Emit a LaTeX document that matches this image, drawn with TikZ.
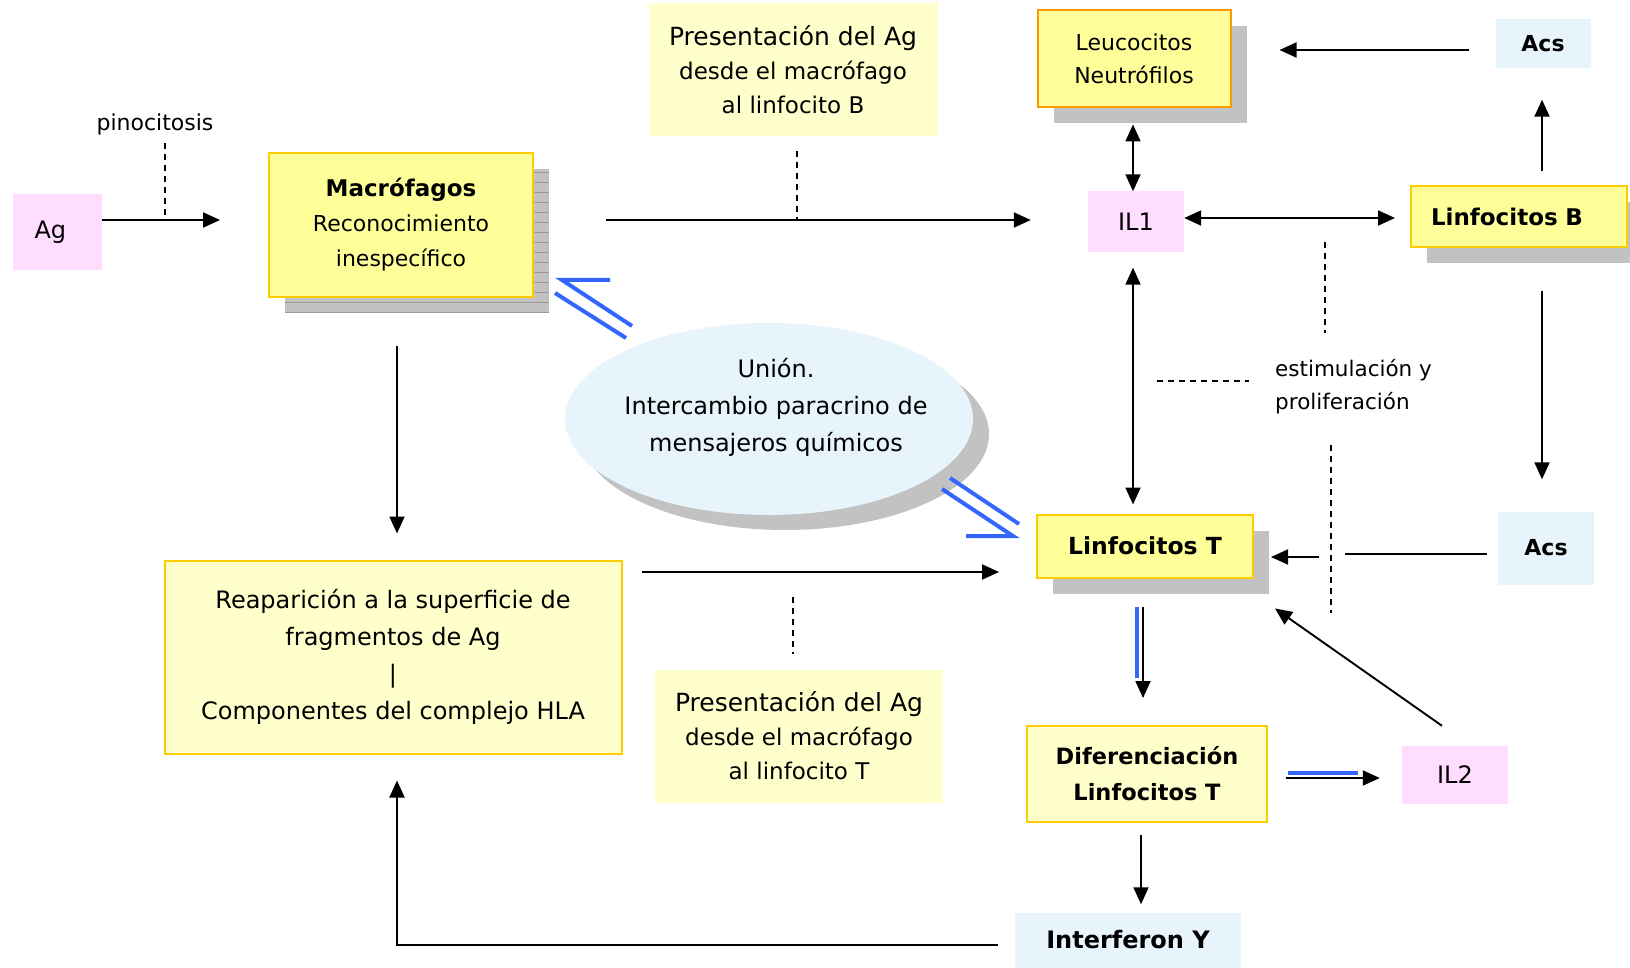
\documentclass[tikz,border=0pt]{standalone}
\usepackage{fontspec}
\setmainfont{DejaVu Sans}
\usetikzlibrary{arrows.meta,calc,shapes.geometric}

\definecolor{boxyellow}{HTML}{FFFF99}
\definecolor{paleyellow}{HTML}{FFFFCC}
\definecolor{goldline}{HTML}{FFCC00}
\definecolor{orangeline}{HTML}{FF9900}
\definecolor{pinkfill}{HTML}{FFDDFF}
\definecolor{skyfill}{HTML}{E8F4FC}
\definecolor{bluestroke}{HTML}{3366FF}
\definecolor{shadowgray}{HTML}{C2C2C2}
\definecolor{pagelines}{HTML}{9A9A9A}

\newcommand\fsz[2]{\fontsize{#1}{#2}\selectfont}

\tikzset{
  basebox/.style={inner sep=0pt, align=center, font=\fsz{24}{37}},
  yellowbox/.style={basebox, draw=goldline, line width=2pt, fill=boxyellow},
  orangebox/.style={basebox, draw=orangeline, line width=2pt, fill=boxyellow},
  palebox/.style={basebox, draw=goldline, line width=2pt, fill=paleyellow},
  notebox/.style={basebox, fill=paleyellow},
  pinkbox/.style={basebox, fill=pinkfill},
  skybox/.style={basebox, fill=skyfill},
  shadowbox/.style={inner sep=0pt, fill=shadowgray},
  arr/.style={line width=1.9pt, -{Triangle[length=17pt,width=15pt]}},
  dblarr/.style={line width=1.9pt, {Triangle[length=17pt,width=15pt]}-{Triangle[length=17pt,width=15pt]}},
  plainline/.style={line width=1.9pt},
  guide/.style={line width=1.3pt, dash pattern=on 6pt off 5pt},
  bluelink/.style={draw=bluestroke, line width=4pt, line join=miter}
}

\begin{document}
\begin{tikzpicture}[x=1pt,y=-1pt]
\useasboundingbox (0,0) rectangle (1630,968);
\fill[white] (0,0) rectangle (1630,968);

% ---------- shadows ----------
\node[shadowbox, minimum width=264pt, minimum height=144pt] (macroshadow) at (417,241) {};
\foreach \yy in {172,182,...,312}
  \draw[pagelines, line width=0.7pt] (285,\yy) -- (549,\yy);
\node[shadowbox, minimum width=193pt, minimum height=97pt] (leucshadow) at (1150,75) {};
\node[shadowbox, minimum width=216pt, minimum height=61pt] (linfBshadow) at (1535,233) {};
\node[shadowbox, minimum width=216pt, minimum height=63pt] (linfTshadow) at (1161,562) {};
\node[ellipse, fill=shadowgray, minimum width=408pt, minimum height=192pt, inner sep=0pt] (unionshadow) at (785,434) {};

% ---------- boxes ----------
\node[pinkbox, minimum height=76pt, text width=45pt, inner xsep=22pt, align=left] (ag) at (57,232) {Ag};
\node[font=\fsz{22}{30}, inner sep=0pt] (pino) at (155,124) {pinocitosis};

\node[yellowbox, minimum width=264pt, minimum height=144pt, font=\fsz{22}{35}] (macro) at (401,225)
  {{\bfseries\fsz{23}{35}Macrófagos}\\Reconocimiento\\inespecífico};

\node[notebox, minimum width=289pt, minimum height=133pt, font=\fsz{23}{34}] (presB) at (793,70)
  {{\fsz{25}{36}Presentación del Ag}\\desde el macrófago\\al linfocito B};

\node[orangebox, minimum width=193pt, minimum height=97pt, font=\fsz{22}{33}] (leuc) at (1134,59)
  {Leucocitos\\Neutrófilos};

\node[skybox, minimum width=95pt, minimum height=49pt, font=\fsz{22}{30}\bfseries] (acs1) at (1543,44) {Acs};

\node[pinkbox, minimum width=96pt, minimum height=61pt] (il1) at (1136,222) {IL1};

\node[yellowbox, minimum height=61pt, text width=176pt, inner xsep=20pt, align=left, font=\fsz{23}{30}\bfseries] (linfB) at (1519,217) {Linfocitos B};

\node[ellipse, fill=skyfill, minimum width=408pt, minimum height=192pt, inner sep=0pt] (union) at (769,419) {};
\node[align=center, inner sep=0pt, font=\fsz{24}{37}] (uniontext) at (776,407)
  {Unión.\\Intercambio paracrino de\\mensajeros químicos};

\node[align=left, inner sep=0pt, anchor=west, font=\fsz{21.5}{33}] (estim) at (1275,387)
  {estimulación y\\proliferación};

\node[yellowbox, minimum width=216pt, minimum height=63pt, font=\fsz{23.5}{30}\bfseries] (linfT) at (1145,546) {Linfocitos T};

\node[skybox, minimum width=96pt, minimum height=73pt, font=\fsz{22}{30}\bfseries] (acs2) at (1546,548) {Acs};

\node[palebox, minimum width=240pt, minimum height=96pt, font=\fsz{22.5}{36}\bfseries] (dif) at (1147,774)
  {Diferenciación\\Linfocitos T};

\node[pinkbox, minimum width=106pt, minimum height=58pt] (il2) at (1455,775) {IL2};

\node[skybox, minimum width=226pt, minimum height=55pt, font=\fsz{24}{30}\bfseries] (interf) at (1128,940) {Interferon Y};

\node[palebox, minimum width=457pt, minimum height=193pt] (reap) at (393,657)
  {Reaparición a la superficie de\\fragmentos de Ag\\|\\Componentes del complejo HLA};

\node[notebox, minimum width=288pt, minimum height=133pt, font=\fsz{23}{34}] (presT) at (799,736)
  {{\fsz{25}{36}Presentación del Ag}\\desde el macrófago\\al linfocito T};

% ---------- connectors ----------
\draw[arr] ($(ag.east)+(0,-12)$) -- ($(macro.west)+(-48,-5)$);
\coordinate (pinotip) at (165,143);
\draw[guide] (pinotip) -- ++(0,77);

\draw[arr] ($(macro.east)+(72,-5)$) -- ($(il1.west)+(-57,-2)$);
\draw[guide] ($(presB.south)+(4,14)$) -- ++(0,70);

\draw[arr] ($(acs1.west)+(-26,6)$) -- ($(leuc.east)+(48,-9)$);
\draw[dblarr] ($(leuc.south)+(-1,16)$) -- ($(il1.north)+(-3,0)$);
\draw[dblarr] ($(il1.east)+(0,-4)$) -- ($(linfB.west)+(-15,1)$);
\draw[arr] ($(linfB.north)+(23,-14)$) -- ($(acs1.south)+(-1,31)$);
\draw[arr] ($(linfB.south)+(23,43)$) -- ($(acs2.north)+(-4,-32)$);
\draw[dblarr] ($(il1.south)+(-3,15)$) -- ($(linfT.north)+(-12,-9)$);

% stimulation guides
\coordinate (guideA) at (1325,242);
\coordinate (guideB) at (1331,445);
\coordinate (guideC) at (1157,381);
\draw[guide] (guideA) -- ++(0,91);
\draw[guide] (guideB) -- ++(0,168);
\draw[guide] (guideC) -- ++(92,0);

% Acs -> Linfocitos T
\draw[plainline] ($(acs2.west)+(-11,6)$) -- ($(linfT.east)+(91,8)$);
\draw[arr] ($(linfT.east)+(65,11)$) -- ($(linfT.east)+(17,11)$);

% Linfocitos T -> Diferenciacion
\draw[bluelink] ($(linfT.south)+(-8,28)$) -- ++(0,71);
\draw[arr] ($(linfT.south)+(-2,28)$) -- ($(dif.north)+(-4,-27)$);

% Diferenciacion -> IL2
\draw[bluelink] ($(dif.east)+(20,-1)$) -- ++(70,0);
\draw[arr] ($(dif.east)+(18,4)$) -- ($(il2.west)+(-22,3)$);

% IL2 -> Linfocitos T
\draw[arr] ($(il2.north)+(-13,-20)$) -- ($(linfT.south east)+(21,30)$);

% Diferenciacion -> Interferon
\draw[arr] ($(dif.south)+(-6,12)$) -- ($(interf.north)+(13,-8)$);

% Interferon -> Reaparicion
\draw[arr] ($(interf.west)+(-17,5)$) -| ($(reap.south)+(4,26)$);

% Macrofagos -> Reaparicion
\draw[arr] ($(macro.south)+(-4,48)$) -- ($(reap.north)+(4,-26)$);

% Reaparicion -> Linfocitos T
\draw[arr] ($(reap.east)+(19,-85)$) -- ($(linfT.west)+(-37,26)$);
\draw[guide] ($(presT.north)+(-6,-72)$) -- ++(0,57);

% union links (blue)
\draw[bluelink] ($(macro.south east)+(76,-18)$) -- ($(macro.south east)+(28,-18)$) -- ($(macro.south east)+(98,28)$);
\draw[bluelink] ($(macro.south east)+(21,-5)$) -- ($(macro.south east)+(92,40)$);
\draw[bluelink] ($(linfT.west)+(-86,-68)$) -- ($(linfT.west)+(-17,-22)$);
\draw[bluelink] ($(linfT.west)+(-94,-57)$) -- ($(linfT.west)+(-23,-10)$) -- ($(linfT.west)+(-70,-10)$);
\end{tikzpicture}
\end{document}
